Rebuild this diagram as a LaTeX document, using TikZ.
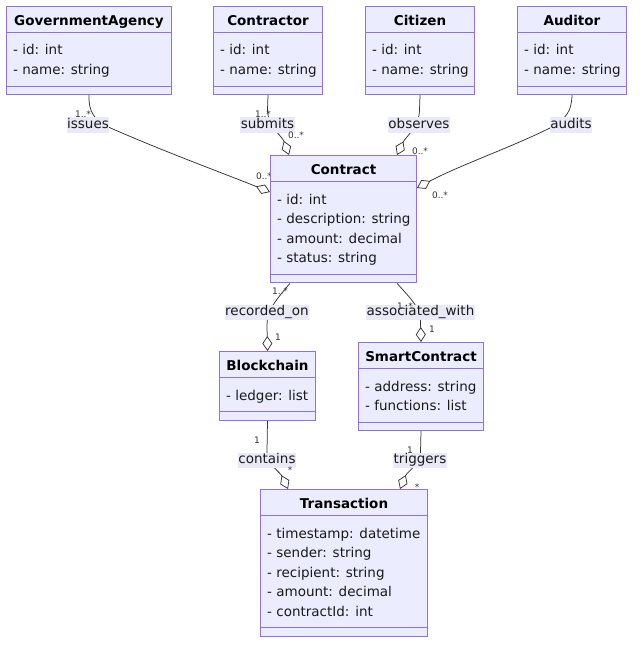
\documentclass[tikz,border=0pt]{standalone}
\usepackage{fontspec}
\setmainfont{DejaVu Sans}
\usetikzlibrary{arrows.meta,calc}
\pgfdeclarelayer{edgelayer}
\pgfsetlayers{edgelayer,main}
\definecolor{boxc}{HTML}{9370DB}
\definecolor{fillc}{HTML}{ECECFF}
\definecolor{lblc}{HTML}{E9E9F7}
\definecolor{linec}{HTML}{333333}
\definecolor{txtc}{HTML}{1A1A1A}
\tikzset{
  classbox/.style={draw=boxc, fill=fillc, line width=1pt, inner sep=0pt, anchor=north west},
  classline/.style={draw=boxc, line width=1pt},
  titletext/.style={font=\bfseries\fontsize{13.5}{16}\selectfont, text=black, inner sep=0pt, anchor=base},
  membertext/.style={font=\fontsize{13.5}{16}\selectfont, text=txtc, inner sep=0pt, anchor=base west},
  conn/.style={draw=linec, line width=0.75pt, -{Diamond[length=15pt,width=10pt,fill=white,line width=0.75pt]}},
  edgelabel/.style={fill=lblc, font=\fontsize{13.5}{16}\selectfont, text=txtc, inner xsep=0.5pt, inner ysep=1pt, text height=10pt, text depth=3pt},
  mult/.style={font=\fontsize{9}{10}\selectfont, text=linec, inner sep=0pt}
}
\newcommand\umlclass[7]{%
  \pgfmathsetmacro\uclh{49+19.6*(#6-1)+10.5+9}%
  \node[classbox, minimum width=#4pt, minimum height=\uclh pt] (#1) at (#2,#3) {};
  \node[titletext] at ($(#1.north)+(0,19.5)$) {#5};
  \draw[classline] ($(#1.north west)+(0,26.5)$) -- ($(#1.north east)+(0,26.5)$);
  \draw[classline] ($(#1.south west)+(0,-9)$) -- ($(#1.south east)+(0,-9)$);
  \foreach \umem [count=\uidx from 0] in {#7} {
    \node[membertext] at ($(#1.north west)+(7,49+19.6*\uidx)$) {\umem};
  }
}
\begin{document}
\begin{tikzpicture}[x=1pt,y=-1pt]
\useasboundingbox (0,0) rectangle (640,650);

% classes
\umlclass{govagency}{6}{6}{165}{GovernmentAgency}{2}{- id: int,- name: string}
\umlclass{contractor}{213}{6}{109}{Contractor}{2}{- id: int,- name: string}
\umlclass{citizen}{365}{6}{109}{Citizen}{2}{- id: int,- name: string}
\umlclass{auditor}{517}{6}{109}{Auditor}{2}{- id: int,- name: string}
\umlclass{contract}{270}{155}{146}{Contract}{4}{- id: int,- description: string,- amount: decimal,- status: string}
\umlclass{blockchain}{219}{351}{96}{Blockchain}{1}{- ledger: list}
\umlclass{smartcontract}{358}{342}{125}{SmartContract}{2}{- address: string,- functions: list}
\umlclass{transaction}{260}{489}{167}{Transaction}{5}{- timestamp: datetime,- sender: string,- recipient: string,- amount: decimal,- contractId: int}

\begin{pgfonlayer}{edgelayer}
% connectors
\draw[conn] (govagency.south) .. controls (88.5,113) and (95,119) .. (106,126) .. controls (160,150) and (220,172) .. ($(contract.north west)+(0,37)$);
\draw[conn] (contractor.south) -- (267.5,110) .. controls (267.5,126) and (282,136) .. ($(contract.north west)+(19,0)$);
\draw[conn] (citizen.south) -- (419.5,110) .. controls (419.5,126) and (405,138) .. ($(contract.north west)+(127,0)$);
\draw[conn] (auditor.south) .. controls (571.5,112) and (566,118) .. (552,127) .. controls (510,148) and (460,165) .. ($(contract.north east)+(0,33)$);
\draw[conn] ($(contract.south west)+(20,0)$) .. controls (276,300) and (267,310) .. (267,325) -- (blockchain.north);
\draw[conn] ($(contract.south west)+(127,0)$) .. controls (412,300) and (420.5,308) .. (420.5,322) -- (smartcontract.north);
\draw[conn] (blockchain.south) -- (267,452) .. controls (267,464) and (280,472) .. ($(transaction.north west)+(28,0)$);
\draw[conn] (smartcontract.south) -- (420.5,452) .. controls (420.5,464) and (407,472) .. ($(transaction.north west)+(140,0)$);

% edge labels
\node[edgelabel] (lissues) at (88,125) {issues};
\node[edgelabel] (lsubmits) at (267.5,125) {submits};
\node[edgelabel] (lobserves) at (419,125) {observes};
\node[edgelabel] (laudits) at (571,125) {audits};
\node[edgelabel] (lrecorded) at (267,312) {recorded\_on};
\node[edgelabel] (lassoc) at (420.5,312) {associated\_with};
\node[edgelabel] (lcontains) at (267,460) {contains};
\node[edgelabel] (ltriggers) at (420,460) {triggers};

% multiplicities
\node[mult] (m1) at (83,114) {1..*};
\node[mult] (m2) at (264,176) {0..*};
\node[mult] (m3) at (263,114) {1..*};
\node[mult] (m4) at (296,135) {0..*};
\node[mult] (m5) at (420,151) {0..*};
\node[mult] (m6) at (440,195) {0..*};
\node[mult] (m7) at (280,291) {1..*};
\node[mult] (m8) at (278,337) {1};
\node[mult] (m9) at (405,306) {1..*};
\node[mult] (m10) at (432,329) {1};
\node[mult] (m11) at (257,440) {1};
\node[mult] (m12) at (290,470) {*};
\node[mult] (m13) at (410,450) {1};
\node[mult] (m14) at (417,487) {*};
\end{pgfonlayer}
\end{tikzpicture}
\end{document}
